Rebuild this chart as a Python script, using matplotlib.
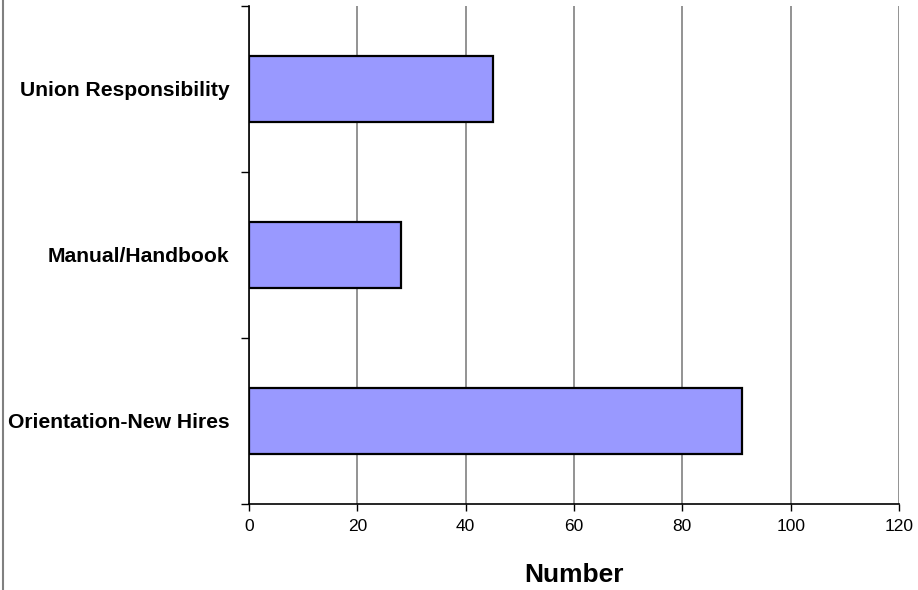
import matplotlib
matplotlib.use("Agg")
import matplotlib.pyplot as plt
from matplotlib.lines import Line2D
from matplotlib.ticker import FixedLocator, NullFormatter

plt.rcParams['font.family'] = ['Liberation Sans', 'DejaVu Sans']

categories = ["Orientation-New Hires", "Manual/Handbook", "Union Responsibility"]
values = [91, 28, 45]
x_ticks = [0, 20, 40, 60, 80, 100, 120]
x_label = "Number"

W, H = 918, 590
fig = plt.figure(figsize=(W / 100, H / 100), dpi=100)
ax = fig.add_axes([249 / W, (H - 504) / H, (899 - 249) / W, (504 - 6) / H])

pos = list(range(len(categories)))
ax.barh(pos, values, height=0.4, color="#9999FF", edgecolor="black",
        linewidth=1.6, zorder=3)

ax.set_xlim(0, 120)
ax.set_ylim(-0.5, len(categories) - 0.5)

ax.set_xticks(x_ticks)
ax.set_xticklabels([str(t) for t in x_ticks], fontsize=12.5)
ax.tick_params(axis="x", direction="out", length=5, width=1, color="black", pad=6)
ax.xaxis.grid(True, color="#808080", linewidth=1.2, zorder=0)

# category boundaries carry tick marks; labels sit at category centres
ax.yaxis.set_major_locator(FixedLocator([p - 0.5 for p in pos] + [pos[-1] + 0.5]))
ax.yaxis.set_major_formatter(NullFormatter())
ax.yaxis.set_minor_locator(FixedLocator(pos))
ax.set_yticklabels(categories, minor=True, fontsize=15.2, fontweight="bold")
ax.tick_params(axis="y", which="major", direction="out", length=6, width=1, color="black")
ax.tick_params(axis="y", which="minor", length=0, pad=14)

for s in ("top", "right"):
    ax.spines[s].set_visible(False)
for s in ("left", "bottom"):
    ax.spines[s].set_color("black")
    ax.spines[s].set_linewidth(1.2)

fig.text((249 + 899) / 2 / W, 1 - 575 / H, x_label, ha="center", va="center",
         fontsize=19, fontweight="bold")

fig.add_artist(Line2D([2.7 / W, 2.7 / W], [0, 1], transform=fig.transFigure,
                      color="#808080", linewidth=1.5))

fig.savefig("out.png", dpi=100)
